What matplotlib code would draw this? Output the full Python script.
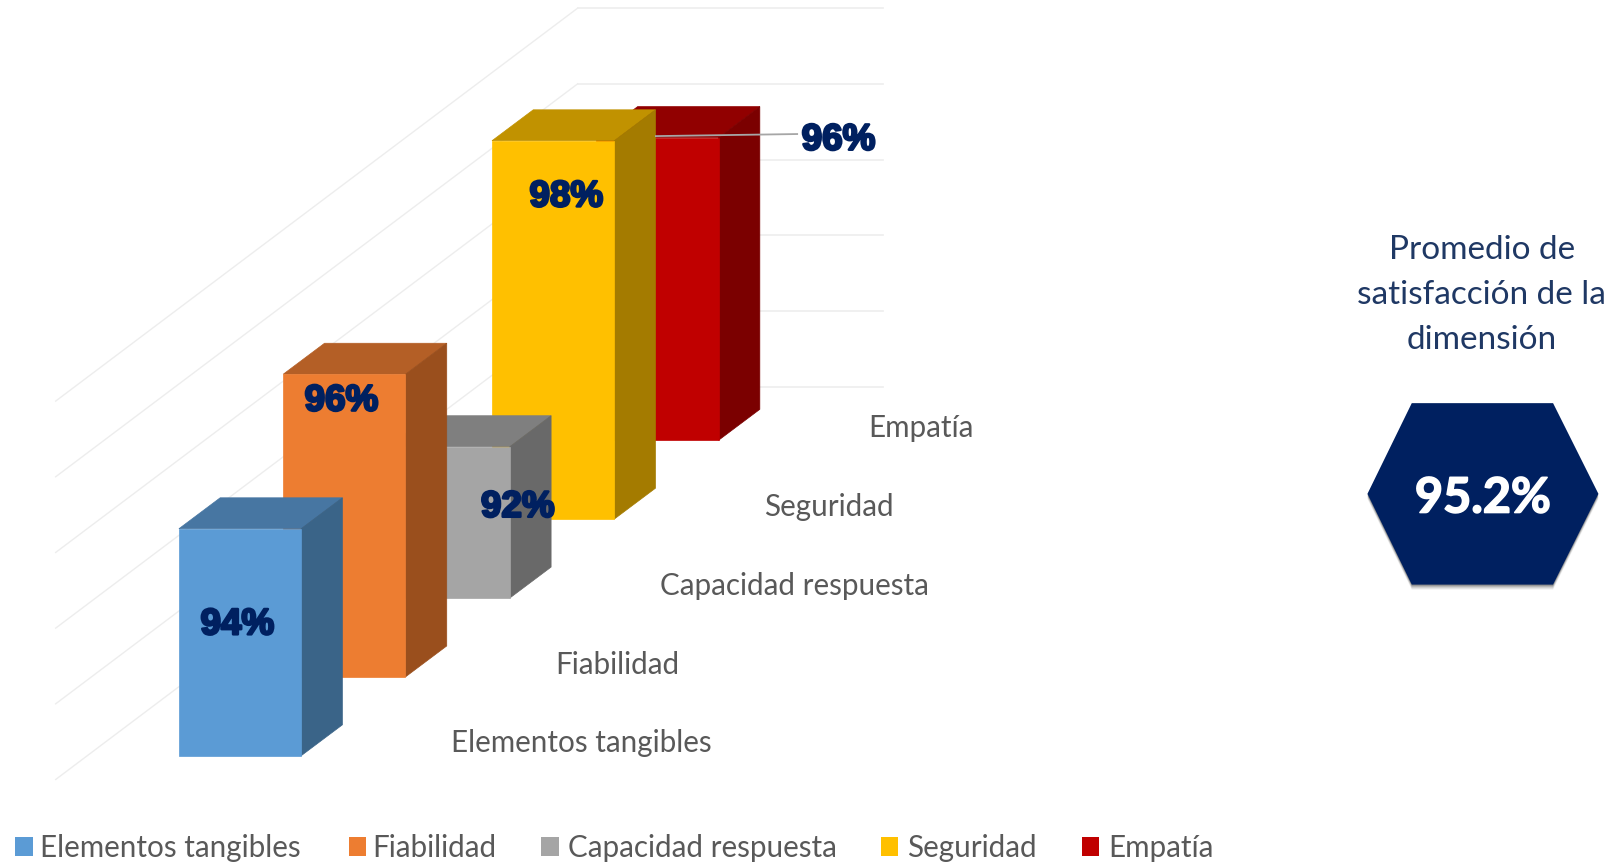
import matplotlib
matplotlib.use('Agg')
import matplotlib.pyplot as plt
import matplotlib.patheffects as pe
from matplotlib.patches import Polygon

# Data
categories = ['Elementos tangibles', 'Fiabilidad', 'Capacidad respuesta', 'Seguridad', 'Empatía']
values = [94, 96, 92, 98, 96]
value_labels = ['94%', '96%', '92%', '98%', '96%']
axis_ticks = [88, 90, 92, 94, 96, 98]
average_label = '95.2%'
average_title = 'Promedio de\nsatisfacción de la\ndimensión'

# Colours per bar: front, top, side
front_colors = ['#5B9BD5', '#ED7D31', '#A5A5A5', '#FFC000', '#C00000']
top_colors = ['#4776A2', '#B45F26', '#7F7F7F', '#C19200', '#910000']
side_colors = ['#3A6488', '#9A4F1D', '#696969', '#A47B00', '#7B0000']

NAVY = '#002060'
TEXT_GREY = '#595959'
GRID = '#EDEDED'

# Oblique projection, in pixels of the 1568 wide layout
BASE_X, BASE_Y = 173.5, 733
STEP_X, STEP_Y = 101.2, -76.5
BAR_W = 118.5
DEPTH_X, DEPTH_Y = 40, -30
PX_PER_UNIT = 36.7
AXIS_MIN = 88
WALL_X0, WALL_X1, WALL_Y0 = 560, 856, 375
FLOOR_X, FLOOR_DY = 54, 381

# Text offsets
label_centers = [(230, 606), (331, 389), (502, 492), (549, 191), (813, 136)]
legend_squares = [15, 338, 525, 854, 1049]
legend_texts = [39, 361, 551, 880, 1075]


def bar_height(v):
    return (v - AXIS_MIN) * PX_PER_UNIT


plt.rcParams['font.family'] = ['Lato', 'DejaVu Sans']

fig = plt.figure(figsize=(16.17, 8.63), dpi=100)
ax = fig.add_axes([0, 0, 1, 1])
ax.set_xlim(0, 1568)
ax.set_ylim(837, 0)
ax.axis('off')

# Walls
for tick in axis_ticks:
    y = WALL_Y0 - bar_height(tick)
    ax.plot([WALL_X0, WALL_X1], [y, y], color=GRID, lw=1.2, zorder=1)
    ax.plot([FLOOR_X, WALL_X0], [y + FLOOR_DY, y], color=GRID, lw=1, zorder=1)

# Bars, back to front
for i in reversed(range(len(values))):
    x0 = BASE_X + i * STEP_X
    y0 = BASE_Y + i * STEP_Y
    x1 = x0 + BAR_W
    y1 = y0 - bar_height(values[i])
    z = 10 + (len(values) - i)
    ax.add_patch(Polygon([(x0, y1), (x0 + DEPTH_X, y1 + DEPTH_Y), (x1 + DEPTH_X, y1 + DEPTH_Y), (x1, y1)],
                         fc=top_colors[i], ec=top_colors[i], lw=0.5, zorder=z))
    ax.add_patch(Polygon([(x1, y0), (x1, y1), (x1 + DEPTH_X, y1 + DEPTH_Y), (x1 + DEPTH_X, y0 + DEPTH_Y)],
                         fc=side_colors[i], ec=side_colors[i], lw=0.5, zorder=z))
    ax.add_patch(Polygon([(x0, y0), (x0, y1), (x1, y1), (x1, y0)],
                         fc=front_colors[i], ec=front_colors[i], lw=0.5, zorder=z))

    # Category label on the floor
    ax.text(x0 + 264, y0 - 12, categories[i], color=TEXT_GREY, fontsize=21.3, va='center', ha='left', zorder=30)

# Value labels
for (lx, ly), lab in zip(label_centers, value_labels):
    ax.text(lx, ly, lab, color=NAVY, fontsize=26.5, family=['Liberation Sans'], fontweight='bold',
            ha='center', va='center', zorder=40,
            path_effects=[pe.withStroke(linewidth=1.8, foreground=NAVY)])

# Leader line of the last label
ax.plot([636, 773], [132, 130], color='#A6A6A6', lw=1.3, zorder=35)

# Legend
for i, cat in enumerate(categories):
    ax.add_patch(Polygon([(legend_squares[i], 812), (legend_squares[i] + 17, 812),
                          (legend_squares[i] + 17, 830), (legend_squares[i], 830)],
                         fc=front_colors[i], ec='none', zorder=5))
    ax.text(legend_texts[i], 822, cat, color=TEXT_GREY, fontsize=21.3, va='center', ha='left')

# Average box
ax.text(1437, 286, average_title, color='#1F3864', fontsize=24, ha='center', va='center',
        linespacing=1.63)
hexagon = [(1326, 479), (1369, 391), (1506, 391), (1550, 479), (1506, 567), (1369, 567)]
for off, alpha in [(5, 0.05), (4, 0.08), (3, 0.1), (2, 0.14), (1, 0.18)]:
    ax.add_patch(Polygon([(x, y + off) for x, y in hexagon], fc='#000000', ec='none', alpha=alpha, zorder=4))
ax.add_patch(Polygon(hexagon, fc=NAVY, ec='none', zorder=5))
ax.text(1438, 483, average_label, color='white', fontsize=35, fontweight='bold', ha='center', va='center', zorder=6,
        path_effects=[pe.withStroke(linewidth=1.2, foreground='white')])

fig.savefig('out.png', dpi=100)
